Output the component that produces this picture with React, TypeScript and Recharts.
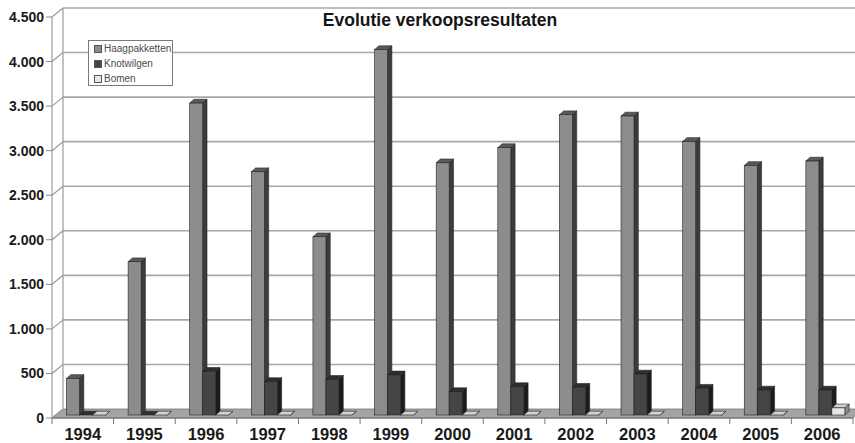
import React from 'react';
import { BarChart, Bar, XAxis, YAxis, CartesianGrid } from 'recharts';

const categories = ['1994', '1995', '1996', '1997', '1998', '1999', '2000', '2001', '2002', '2003', '2004', '2005', '2006'];
const haagpakketten = [410, 1720, 3500, 2730, 2000, 4100, 2830, 3000, 3370, 3355, 3070, 2800, 2850];
const knotwilgen = [0, 0, 490, 375, 400, 450, 262, 318, 311, 460, 300, 280, 280];
const bomen = [0, 0, 0, 0, 0, 0, 0, 0, 0, 0, 0, 0, 80];
const yTicks = [0, 500, 1000, 1500, 2000, 2500, 3000, 3500, 4000, 4500];
const seriesNames = ['Haagpakketten', 'Knotwilgen', 'Bomen'];
const chartTitle = 'Evolutie verkoopsresultaten';

const data = categories.map((c, i) => ({
  year: c,
  Haagpakketten: haagpakketten[i],
  Knotwilgen: knotwilgen[i],
  Bomen: bomen[i],
}));

const W = 855;
const H = 443;
const MARGIN = { top: 17, right: 2, left: 7, bottom: 0 };
const Y_AXIS_W = 45;
const X_AXIS_H = 25;
const PLOT_W = W - MARGIN.left - MARGIN.right - Y_AXIS_W;

// 3D geometry
const WALL_DX = 11;
const WALL_DY = -9;
const BAR_FX = 3.7;
const BAR_FY = -3;
const BAR_DX = 4.3;
const BAR_DY = -3.8;

const FONT = '"Liberation Sans", Arial, sans-serif';

const palette = [
  { front: '#8c8c8c', top: '#5a5a5a', side: '#3c3c3c' },
  { front: '#454545', top: '#2e2e2e', side: '#1c1c1c' },
  { front: '#e6e6e6', top: '#d2d2d2', side: '#8e8e8e' },
];

const fmt = (v: number) => String(v).replace(/\B(?=(\d{3})+(?!\d))/g, '.');

const make3DBar = (c: { front: string; top: string; side: string }) => (props: any) => {
  const { x, y, width, height } = props;
  if (x == null || y == null || !isFinite(x) || !isFinite(y)) return <g />;
  const h = Math.max(0, height || 0);
  const w = width || 0;
  const fx = x + BAR_FX;
  const fy = y + BAR_FY;
  const side = [
    [fx + w, fy],
    [fx + w + BAR_DX, fy + BAR_DY],
    [fx + w + BAR_DX, fy + h + BAR_DY],
    [fx + w, fy + h],
  ].map((p) => p.join(',')).join(' ');
  const top = [
    [fx, fy],
    [fx + BAR_DX, fy + BAR_DY],
    [fx + w + BAR_DX, fy + BAR_DY],
    [fx + w, fy],
  ].map((p) => p.join(',')).join(' ');
  return (
    <g>
      <polygon points={side} fill={c.side} stroke="#222" strokeWidth={0.6} />
      <polygon points={top} fill={c.top} stroke="#222" strokeWidth={0.6} />
      {h > 0 && <rect x={fx} y={fy} width={w} height={h} fill={c.front} stroke="#222" strokeWidth={0.6} />}
    </g>
  );
};

const HorizontalWall = (props: any) => {
  const { x1, y1, x2, index } = props;
  const bx = x1 + WALL_DX;
  const by = y1 + WALL_DY;
  return (
    <g key={`h-${index}`}>
      {index === 0 && (
        <polygon
          points={`${x1},${y1} ${x2},${y1} ${x2 + WALL_DX},${by} ${bx},${by}`}
          fill="#a4a4a4"
          stroke="#7a7a7a"
          strokeWidth={0.8}
        />
      )}
      <line x1={x1} y1={y1} x2={bx} y2={by} stroke="#9a9a9a" strokeWidth={1.2} />
      {index !== 0 && <line x1={bx} y1={by} x2={x2 + WALL_DX} y2={by} stroke="#a8a8a8" strokeWidth={1.6} />}
    </g>
  );
};

const VerticalWall = (props: any) => {
  const { x1, y1, x2, y2, index } = props;
  return (
    <line
      key={`v-${index}`}
      x1={x1 + WALL_DX}
      y1={y1 + WALL_DY}
      x2={x2 + WALL_DX}
      y2={y2 + WALL_DY}
      stroke="#9a9a9a"
      strokeWidth={1.2}
    />
  );
};

const XTick = (props: any) => {
  const { x, y, payload, index } = props;
  const half = payload && typeof payload.offset === 'number' && payload.offset > 0 ? payload.offset : PLOT_W / categories.length / 2;
  return (
    <g>
      {index === 0 && <line x1={x - half} y1={y} x2={x - half} y2={y + 6} stroke="#777" strokeWidth={1} />}
      <line x1={x + half} y1={y} x2={x + half} y2={y + 6} stroke="#777" strokeWidth={1} />
      <text x={x} y={y + 21.5} textAnchor="middle" fontFamily={FONT} fontWeight="bold" fontSize={16.5} fill="#1a1a1a">
        {payload.value}
      </text>
    </g>
  );
};

const LegendBox = () => (
  <div
    style={{
      position: 'absolute',
      left: 88,
      top: 40,
      boxSizing: 'border-box',
      width: 85,
      height: 46,
      border: '1px solid #7a7a7a',
      background: '#fff',
      fontFamily: FONT,
      fontSize: 10,
      color: '#4a4a4a',
      paddingTop: 0,
      zIndex: 2,
    }}
  >
    {seriesNames.map((n, i) => (
      <div key={n} style={{ height: 15, lineHeight: '15px', display: 'flex', alignItems: 'center', paddingLeft: 5 }}>
        <span
          style={{
            display: 'inline-block',
            width: 6,
            height: 6,
            background: palette[i].front,
            border: '1px solid #555',
            marginRight: 2,
          }}
        />
        <span>{n}</span>
      </div>
    ))}
  </div>
);

export default function App() {
  return (
    <div style={{ position: 'absolute', left: 0, top: 0, width: W, height: H, background: '#fff', overflow: 'hidden' }}>
      <BarChart
        width={W}
        height={H}
        data={data}
        margin={MARGIN}
        barCategoryGap="17.5%"
        barGap={0}
      >
        <CartesianGrid
          horizontal={HorizontalWall as any}
          vertical={VerticalWall as any}
          verticalCoordinatesGenerator={({ offset }: any) => [offset.left]}
        />
        <XAxis
          dataKey="year"
          height={X_AXIS_H}
          interval={0}
          tickLine={false}
          tickSize={0}
          tickMargin={0}
          axisLine={{ stroke: '#6a6a6a', strokeWidth: 1 }}
          tick={<XTick />}
        />
        <YAxis
          width={Y_AXIS_W}
          domain={[0, 4500]}
          ticks={yTicks}
          interval={0}
          tickFormatter={fmt}
          tickLine={{ stroke: '#8a8a8a' }}
          axisLine={{ stroke: '#8a8a8a' }}
          tick={{ fontFamily: FONT, fontWeight: 'bold', fontSize: 14, fill: '#1a1a1a' }}
        />
        <Bar dataKey="Haagpakketten" isAnimationActive={false} shape={make3DBar(palette[0])} />
        <Bar dataKey="Knotwilgen" isAnimationActive={false} shape={make3DBar(palette[1])} />
        <Bar dataKey="Bomen" isAnimationActive={false} shape={make3DBar(palette[2])} />
      </BarChart>
      <div
        style={{
          position: 'absolute',
          left: 0,
          width: 880,
          top: 12,
          textAlign: 'center',
          fontFamily: FONT,
          fontWeight: 'bold',
          fontSize: 17.5,
          lineHeight: '17px',
          color: '#151515',
          zIndex: 2,
        }}
      >
        {chartTitle}
      </div>
      <LegendBox />
    </div>
  );
}
